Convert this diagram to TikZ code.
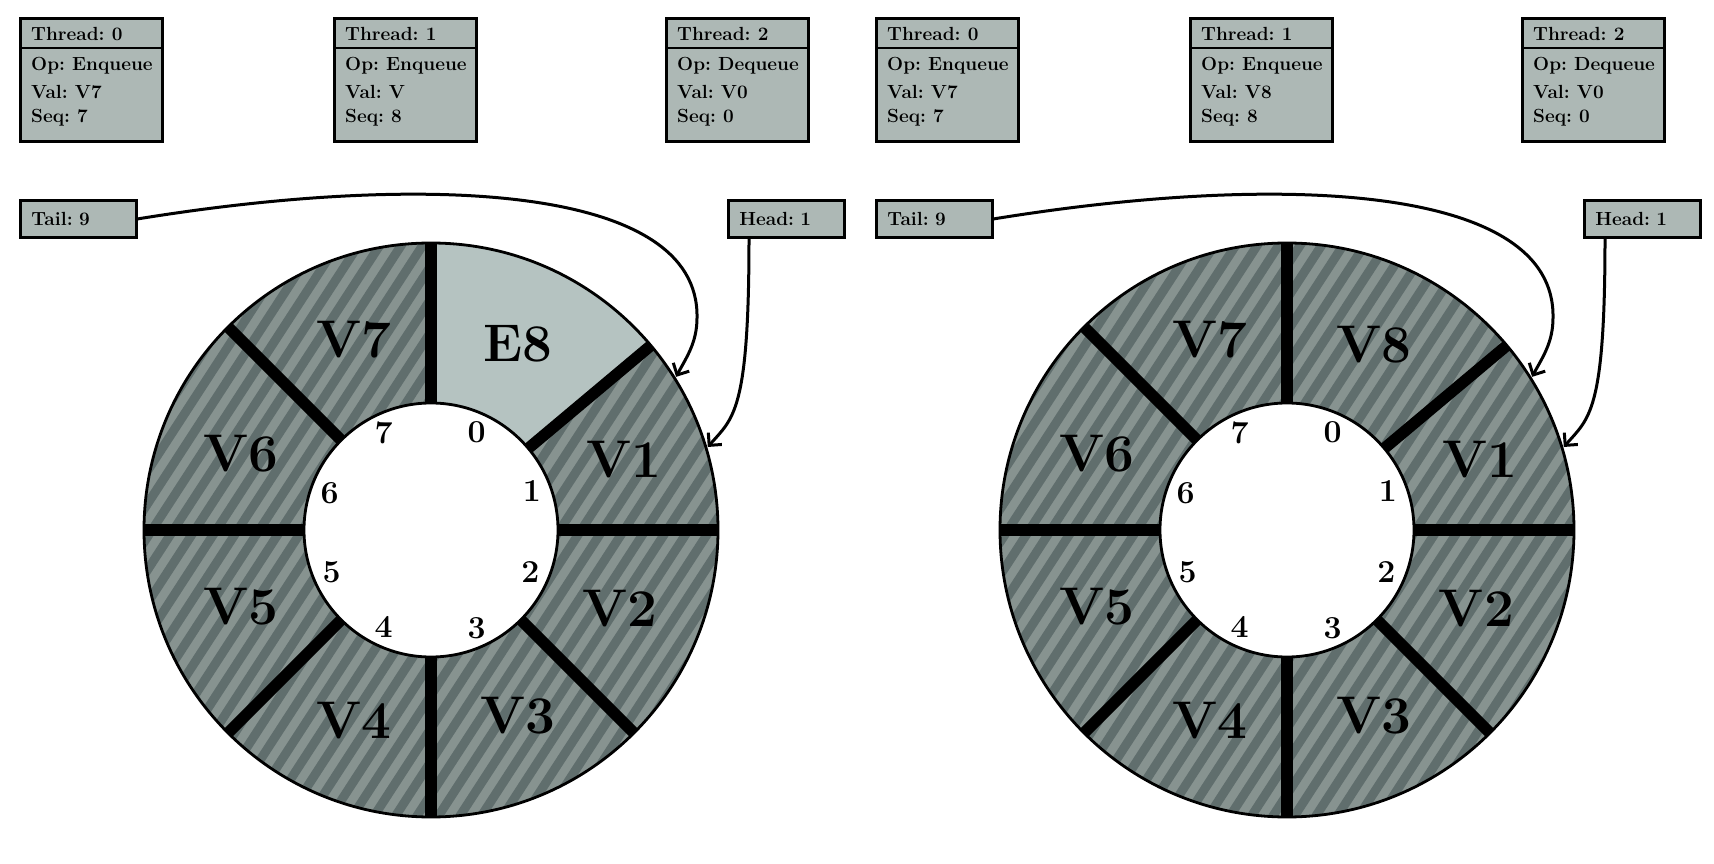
\documentclass[tikz,border=0pt]{standalone}
\usetikzlibrary{arrows.meta}
\usetikzlibrary{calc}
\usetikzlibrary{positioning}

\definecolor{boxgray}{HTML}{ADB8B5}
\definecolor{emptygray}{HTML}{B5C3C1}
\definecolor{stripelight}{HTML}{879390}
\definecolor{stripedark}{HTML}{606E6D}

\tikzset{
    threadbox/.style = {draw, line width = 2.8pt, fill = boxgray, minimum width = 142pt, minimum height = 123pt, anchor = north west, inner sep = 0pt},
    ptrbox/.style = {draw, line width = 2.8pt, fill = boxgray, minimum height = 37pt, anchor = north west, inner xsep = 11pt, text width = 94pt, font = \fontsize{19}{23}\bfseries\frenchspacing},
    boxline/.style = {line width = 2.5pt},
    boxtext/.style = {font = \fontsize{19}{23}\bfseries\frenchspacing, inner sep = 0pt, anchor = base west},
    slotlabel/.style = {font = \fontsize{53}{60}\bfseries, inner sep = 0pt},
    indexlabel/.style = {font = \fontsize{32}{36}\bfseries, inner sep = 0pt},
    divider/.style = {line width = 11.5pt},
    ringline/.style = {line width = 2.8pt},
    stripe/.style = {stripedark, line width = 9pt},
    pointer/.style = {line width = 3pt, ->},
    slotempty/.style = {fill = emptygray},
    slotfull/.style = {},
}

\begin{document}
\begin{tikzpicture}
    [   x = 1pt, y = 1pt
    ,   > = {Straight Barb[length=9pt,width=18pt]}
    ]
    \useasboundingbox (0,0) rectangle (1714,863);

    \foreach\s/\dx/\nextval/\topval/\topfill in {L/0/V/E8/slotempty,R/856/V8/V8/slotfull}
    {
        \begin{scope}[xshift=\dx]
            \coordinate (\s-c) at (431,333);
            \begin{scope}[shift={(\s-c)}]
                \fill[stripelight, even odd rule] (0,0) circle (287) (0,0) circle (127);
                \begin{scope}[even odd rule]
                    \clip (0,0) circle (287) (0,0) circle (127);
                    \begin{scope}[rotate=57]
                        \foreach\k in {-17,...,17}
                            \draw[stripe] (-300,\k*18) -- (300,\k*18);
                    \end{scope}
                \end{scope}
                \path[\topfill] (40:287) arc[start angle=40, end angle=90, radius=287]
                    -- (90:127) arc[start angle=90, end angle=40, radius=127] -- cycle;
                \foreach\a in {90,40,0,-45,-90,-135,180,135}
                    \draw[divider] (\a:127) -- (\a:287);
                \draw[ringline] (0,0) circle (287);
                \draw[ringline] (0,0) circle (127);

                \foreach\k/\a/\v in {0/65/\topval,1/20/V1,2/-22.5/V2,3/-65/V3,4/-112/V4,5/-158/V5,6/158/V6,7/112/V7}
                    \node[slotlabel] (\s-v\k) at (\a:205) {\v};
                \foreach\k/\a in {0/65,1/21,2/-23,3/-65,4/-116,5/-157,6/160,7/116}
                    \node[indexlabel] (\s-i\k) at (\a:108) {\k};

                \coordinate (\s-tailtip) at (32:289);
                \coordinate (\s-headtip) at (16.7:289);
            \end{scope}

            \foreach\i/\x/\op/\val/\seq in {0/19/Enqueue/V7/7,1/333/Enqueue/\nextval/8,2/665/Dequeue/V0/0}
            {
                \node[threadbox] (\s-t\i) at (\x,846) {};
                \draw[boxline] ([yshift=-31pt]\s-t\i.north west) -- ([yshift=-31pt]\s-t\i.north east);
                \node[boxtext] (\s-t\i-id) at (\x+12,822) {Thread: \i};
                \node[boxtext] (\s-t\i-op) at (\x+12,792) {Op: \op};
                \node[boxtext] (\s-t\i-val) at (\x+12,764) {Val: \val};
                \node[boxtext] (\s-t\i-seq) at (\x+12,740) {Seq: \seq};
            }

            \node[ptrbox] (\s-tail) at (19,664) {Tail: 9};
            \node[ptrbox] (\s-head) at (727,664) {Head: 1};

            \draw[pointer] (\s-tail.east) .. controls (420,690) and (700,680) .. (697,545)
                .. controls (697,520) and (686,505) .. (\s-tailtip);
            \draw[pointer] (749,0 |- \s-head.south) .. controls (749,450) and (733,445) .. (\s-headtip);
        \end{scope}
    }
\end{tikzpicture}
\end{document}
